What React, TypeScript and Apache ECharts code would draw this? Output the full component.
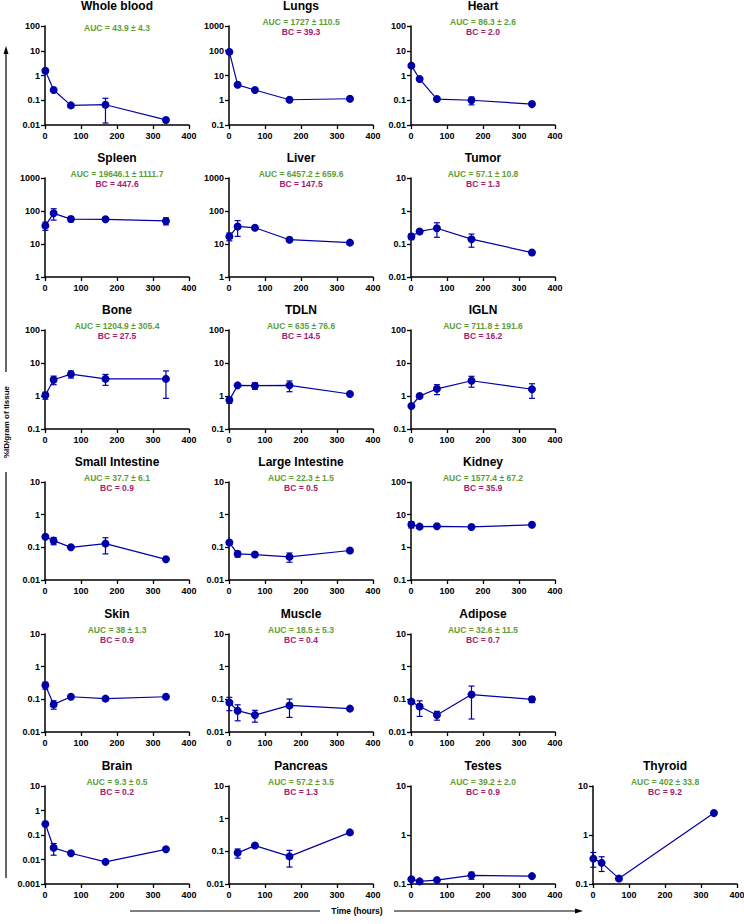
import React, { useEffect, useRef } from "react";
import * as echarts from "echarts";

// ---------- data ----------
const timePoints = [1, 24, 72, 168, 336];
const pancreasTimes = [24, 72, 168, 336];
const thyroidTimes = [1, 24, 72, 336];

const wholeBloodMean = [1.55, 0.26, 0.062, 0.066, 0.016];
const wholeBloodSd = [0.1, 0.02, 0.005, 0.054, 0.003];
const lungsMean = [90, 4.2, 2.6, 1.05, 1.15];
const lungsSd = [8, 0.3, 0.2, 0.08, 0.1];
const heartMean = [2.5, 0.72, 0.112, 0.1, 0.07];
const heartSd = [0.3, 0.05, 0.008, 0.035, 0.005];
const spleenMean = [36, 85, 57, 56, 50];
const spleenSd = [10, 32, 10, 4, 12];
const liverMean = [17, 34, 31, 13.5, 11];
const liverSd = [4.5, 17, 3, 1, 1];
const tumorMean = [0.17, 0.24, 0.3, 0.14, 0.055];
const tumorSd = [0.035, 0.02, 0.14, 0.06, 0.004];
const boneMean = [1.05, 3.1, 4.6, 3.3, 3.3];
const boneSd = [0.25, 0.9, 1.1, 1.2, 2.45];
const tdlnMean = [0.75, 2.1, 2.05, 2.1, 1.15];
const tdlnSd = [0.15, 0.1, 0.45, 0.75, 0.05];
const iglnMean = [0.5, 1.0, 1.65, 2.9, 1.6];
const iglnSd = [0.05, 0.05, 0.55, 1.05, 0.75];
const smallIntMean = [0.21, 0.16, 0.1, 0.13, 0.043];
const smallIntSd = [0.02, 0.04, 0.008, 0.067, 0.003];
const largeIntMean = [0.14, 0.063, 0.06, 0.051, 0.08];
const largeIntSd = [0.01, 0.013, 0.004, 0.016, 0.005];
const kidneyMean = [5.0, 4.3, 4.4, 4.2, 4.9];
const kidneySd = [1.1, 0.3, 0.3, 0.3, 0.3];
const skinMean = [0.27, 0.07, 0.12, 0.105, 0.12];
const skinSd = [0.065, 0.02, 0.008, 0.005, 0.005];
const muscleMean = [0.08, 0.045, 0.033, 0.065, 0.052];
const muscleSd = [0.035, 0.023, 0.013, 0.037, 0.003];
const adiposeMean = [0.085, 0.06, 0.033, 0.14, 0.1];
const adiposeSd = [0.01, 0.03, 0.01, 0.115, 0.02];
const brainMean = [0.28, 0.03, 0.018, 0.008, 0.026];
const brainSd = [0.02, 0.015, 0.002, 0.001, 0.002];
const pancreasMean = [0.09, 0.15, 0.07, 0.38];
const pancreasSd = [0.028, 0.01, 0.037, 0.02];
const testesMean = [0.125, 0.113, 0.12, 0.15, 0.145];
const testesSd = [0.006, 0.005, 0.006, 0.025, 0.006];
const thyroidMean = [0.33, 0.27, 0.13, 2.8];
const thyroidSd = [0.11, 0.09, 0.005, 0.1];

const xTicks = { min: 0, max: 400, interval: 100 };

type Panel = {
  name: string;
  auc: string;
  bc: string | null;
  yMin: number;
  yMax: number;
  t: number[];
  mean: number[];
  sd: number[];
  col: number;
  row: number;
};

const panels: Panel[] = [
  { name: "Whole blood", auc: "AUC = 43.9 ± 4.3", bc: null, yMin: 0.01, yMax: 100, t: timePoints, mean: wholeBloodMean, sd: wholeBloodSd, col: 0, row: 0 },
  { name: "Lungs", auc: "AUC = 1727 ± 110.5", bc: "BC = 39.3", yMin: 0.1, yMax: 1000, t: timePoints, mean: lungsMean, sd: lungsSd, col: 1, row: 0 },
  { name: "Heart", auc: "AUC = 86.3 ± 2.6", bc: "BC = 2.0", yMin: 0.01, yMax: 100, t: timePoints, mean: heartMean, sd: heartSd, col: 2, row: 0 },
  { name: "Spleen", auc: "AUC = 19646.1 ± 1111.7", bc: "BC = 447.6", yMin: 1, yMax: 1000, t: timePoints, mean: spleenMean, sd: spleenSd, col: 0, row: 1 },
  { name: "Liver", auc: "AUC = 6457.2 ± 659.6", bc: "BC = 147.5", yMin: 1, yMax: 1000, t: timePoints, mean: liverMean, sd: liverSd, col: 1, row: 1 },
  { name: "Tumor", auc: "AUC = 57.1 ± 10.8", bc: "BC = 1.3", yMin: 0.01, yMax: 10, t: timePoints, mean: tumorMean, sd: tumorSd, col: 2, row: 1 },
  { name: "Bone", auc: "AUC = 1204.9 ± 305.4", bc: "BC = 27.5", yMin: 0.1, yMax: 100, t: timePoints, mean: boneMean, sd: boneSd, col: 0, row: 2 },
  { name: "TDLN", auc: "AUC = 635 ± 76.6", bc: "BC = 14.5", yMin: 0.1, yMax: 100, t: timePoints, mean: tdlnMean, sd: tdlnSd, col: 1, row: 2 },
  { name: "IGLN", auc: "AUC = 711.8 ± 191.6", bc: "BC = 16.2", yMin: 0.1, yMax: 100, t: timePoints, mean: iglnMean, sd: iglnSd, col: 2, row: 2 },
  { name: "Small Intestine", auc: "AUC = 37.7 ± 6.1", bc: "BC = 0.9", yMin: 0.01, yMax: 10, t: timePoints, mean: smallIntMean, sd: smallIntSd, col: 0, row: 3 },
  { name: "Large Intestine", auc: "AUC = 22.3 ± 1.5", bc: "BC = 0.5", yMin: 0.01, yMax: 10, t: timePoints, mean: largeIntMean, sd: largeIntSd, col: 1, row: 3 },
  { name: "Kidney", auc: "AUC = 1577.4 ± 67.2", bc: "BC = 35.9", yMin: 0.1, yMax: 100, t: timePoints, mean: kidneyMean, sd: kidneySd, col: 2, row: 3 },
  { name: "Skin", auc: "AUC = 38 ± 1.3", bc: "BC = 0.9", yMin: 0.01, yMax: 10, t: timePoints, mean: skinMean, sd: skinSd, col: 0, row: 4 },
  { name: "Muscle", auc: "AUC = 18.5 ± 5.3", bc: "BC = 0.4", yMin: 0.01, yMax: 10, t: timePoints, mean: muscleMean, sd: muscleSd, col: 1, row: 4 },
  { name: "Adipose", auc: "AUC = 32.6 ± 11.5", bc: "BC = 0.7", yMin: 0.01, yMax: 10, t: timePoints, mean: adiposeMean, sd: adiposeSd, col: 2, row: 4 },
  { name: "Brain", auc: "AUC = 9.3 ± 0.5", bc: "BC = 0.2", yMin: 0.001, yMax: 10, t: timePoints, mean: brainMean, sd: brainSd, col: 0, row: 5 },
  { name: "Pancreas", auc: "AUC = 57.2 ± 3.5", bc: "BC = 1.3", yMin: 0.01, yMax: 10, t: pancreasTimes, mean: pancreasMean, sd: pancreasSd, col: 1, row: 5 },
  { name: "Testes", auc: "AUC = 39.2 ± 2.0", bc: "BC = 0.9", yMin: 0.1, yMax: 10, t: timePoints, mean: testesMean, sd: testesSd, col: 2, row: 5 },
  { name: "Thyroid", auc: "AUC = 402 ± 33.8", bc: "BC = 9.2", yMin: 0.1, yMax: 10, t: thyroidTimes, mean: thyroidMean, sd: thyroidSd, col: 3, row: 5 },
];

// ---------- layout ----------
const colX = [45, 229, 411, 593];
const rowTop = [26, 178, 330, 482, 634, 786];
const rowH = [99, 99, 99, 98, 98, 98];
const plotW = 144;

const FONT = "Arial, 'Liberation Sans', Helvetica, sans-serif";
const BLUE = "#0000a8";
const GREEN = "#5e9e35";
const MAGENTA = "#a3206f";

function fmtLog(v: number): string {
  const e = Math.round(Math.log10(v));
  if (e >= 0) return String(Math.pow(10, e));
  return Math.pow(10, e).toFixed(-e);
}

export default function App() {
  const ref = useRef<HTMLDivElement>(null);

  useEffect(() => {
    document.body.style.margin = "0";
    if (!ref.current) return;
    const chart = echarts.init(ref.current, undefined, { renderer: "svg" });

    const grid = panels.map((p) => ({
      left: colX[p.col],
      top: rowTop[p.row],
      width: plotW,
      height: rowH[p.row],
      containLabel: false,
      outerBoundsMode: "none",
    }));

    const axisLine = { show: true, lineStyle: { color: "#000", width: 1.5 } };
    const axisTick = { show: true, length: 4, lineStyle: { color: "#000", width: 1.3 } };
    const labelStyle = { fontSize: 9, fontWeight: "bold", color: "#000", fontFamily: FONT };

    const xAxis = panels.map((_, i) => ({
      gridIndex: i,
      type: "value",
      min: xTicks.min,
      max: xTicks.max,
      interval: xTicks.interval,
      axisLine,
      axisTick,
      axisLabel: { ...labelStyle, margin: 6, showMinLabel: true, showMaxLabel: true },
      splitLine: { show: false },
    }));

    const yAxis = panels.map((p, i) => ({
      gridIndex: i,
      type: "log",
      logBase: 10,
      min: p.yMin,
      max: p.yMax,
      axisLine,
      axisTick,
      axisLabel: { ...labelStyle, margin: 5, formatter: (v: number) => fmtLog(v), showMinLabel: true, showMaxLabel: true },
      splitLine: { show: false },
    }));

    const series: any[] = [];
    panels.forEach((p, i) => {
      series.push({
        type: "custom",
        xAxisIndex: i,
        yAxisIndex: i,
        z: 2,
        silent: true,
        encode: { x: 0, y: [1, 2] },
        data: p.t.map((x, j) => [x, Math.max(p.mean[j] - p.sd[j], p.yMin), p.mean[j] + p.sd[j]]),
        renderItem: (_params: any, api: any) => {
          const x = api.value(0);
          const lo = api.coord([x, api.value(1)]);
          const hi = api.coord([x, api.value(2)]);
          const cap = 3;
          const style = { stroke: BLUE, lineWidth: 1.2 };
          return {
            type: "group",
            children: [
              { type: "line", shape: { x1: lo[0], y1: lo[1], x2: hi[0], y2: hi[1] }, style },
              { type: "line", shape: { x1: hi[0] - cap, y1: hi[1], x2: hi[0] + cap, y2: hi[1] }, style },
              { type: "line", shape: { x1: lo[0] - cap, y1: lo[1], x2: lo[0] + cap, y2: lo[1] }, style },
            ],
          };
        },
      });
      series.push({
        type: "line",
        xAxisIndex: i,
        yAxisIndex: i,
        z: 3,
        data: p.t.map((x, j) => [x, p.mean[j]]),
        symbol: "circle",
        symbolSize: 8,
        itemStyle: { color: BLUE },
        lineStyle: { color: BLUE, width: 1.2 },
        silent: true,
      });
    });

    const graphics: any[] = [];
    panels.forEach((p) => {
      const cx = colX[p.col] + plotW / 2;
      const top = rowTop[p.row];
      graphics.push({
        type: "text",
        x: cx,
        y: top - 20,
        style: { text: p.name, fontSize: 12, fontWeight: "bold", fill: "#000", fontFamily: FONT, textAlign: "center", textVerticalAlign: "middle" },
      });
      graphics.push({
        type: "text",
        x: cx,
        y: p.bc ? top - 4 : top + 2,
        style: { text: p.auc, fontSize: 8.5, fontWeight: "bold", fill: GREEN, fontFamily: FONT, textAlign: "center", textVerticalAlign: "middle" },
      });
      if (p.bc) {
        graphics.push({
          type: "text",
          x: cx,
          y: top + 6,
          style: { text: p.bc, fontSize: 8.5, fontWeight: "bold", fill: MAGENTA, fontFamily: FONT, textAlign: "center", textVerticalAlign: "middle" },
        });
      }
    });

    // left y-axis annotation
    graphics.push({ type: "line", shape: { x1: 6, y1: 53, x2: 6, y2: 372 }, style: { stroke: "#000", lineWidth: 1.2 } });
    graphics.push({ type: "polygon", shape: { points: [[6, 46], [3.5, 54], [8.5, 54]] }, style: { fill: "#000" } });
    graphics.push({
      type: "text",
      x: 6,
      y: 422,
      rotation: Math.PI / 2,
      style: { text: "%ID/gram of tissue", fontSize: 8, fontWeight: "bold", fill: "#000", fontFamily: FONT, textAlign: "center", textVerticalAlign: "middle" },
    });
    graphics.push({ type: "line", shape: { x1: 6, y1: 472, x2: 6, y2: 878 }, style: { stroke: "#000", lineWidth: 1.2 } });

    // bottom x-axis annotation
    graphics.push({ type: "line", shape: { x1: 130, y1: 911, x2: 320, y2: 911 }, style: { stroke: "#000", lineWidth: 1.2 } });
    graphics.push({
      type: "text",
      x: 357,
      y: 911,
      style: { text: "Time (hours)", fontSize: 8.5, fontWeight: "bold", fill: "#000", fontFamily: FONT, textAlign: "center", textVerticalAlign: "middle" },
    });
    graphics.push({ type: "line", shape: { x1: 394, y1: 911, x2: 576, y2: 911 }, style: { stroke: "#000", lineWidth: 1.2 } });
    graphics.push({ type: "polygon", shape: { points: [[583, 911], [575, 908.5], [575, 913.5]] }, style: { fill: "#000" } });

    chart.setOption({
      animation: false,
      backgroundColor: "#ffffff",
      textStyle: { fontFamily: FONT },
      grid,
      xAxis,
      yAxis,
      series,
      graphic: graphics,
    });

    return () => chart.dispose();
  }, []);

  return <div ref={ref} style={{ width: 744, height: 924 }} />;
}
